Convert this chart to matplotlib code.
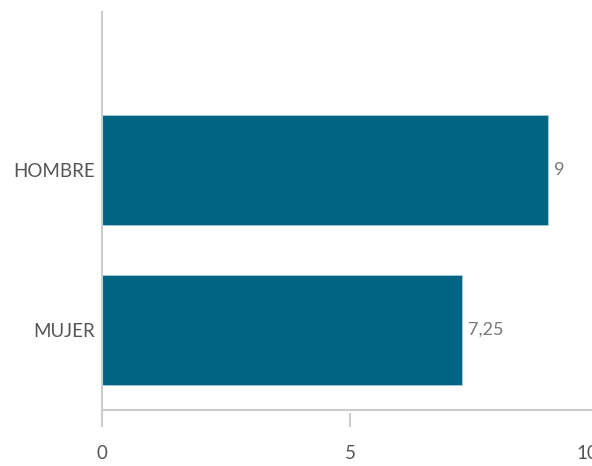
import matplotlib
matplotlib.use('Agg')
import matplotlib.pyplot as plt
from matplotlib.transforms import ScaledTranslation

categories = ['MUJER', 'HOMBRE']
values = [7.25, 9]
value_labels = ['7,25', '9']
xticks = [0, 5, 10]

plt.rcParams['font.family'] = ['Lato', 'DejaVu Sans']

W, H = 592, 466
fig = plt.figure(figsize=(W / 100, H / 100), dpi=100)
# axes runs past the right edge so that the "10" label gets clipped like the original
ax = fig.add_axes([102 / W, (H - 410) / H, 496 / W, 398 / H])

ypos = list(range(len(categories)))
bars = ax.barh(ypos, values, height=0.69, color='#006482', edgecolor='#a8d0dc', linewidth=0.6, zorder=2)

for b, lab in zip(bars, value_labels):
    ax.text(b.get_width() + 0.12, b.get_y() + b.get_height() / 2, lab,
            va='center', ha='left', fontsize=13, color='#777777')

ax.set_xlim(0, 10)
ax.set_ylim(-0.5, 1.99)
ax.set_yticks(ypos)
ax.set_yticklabels(categories)
ax.set_xticks(xticks)
ax.set_xticklabels([str(t) for t in xticks])

for s in ['top', 'right']:
    ax.spines[s].set_visible(False)
ax.spines['left'].set_color('#cccccc')
ax.spines['left'].set_linewidth(1.5)
ax.spines['left'].set_bounds(-0.52, 1.99)
ax.spines['bottom'].set_position(('outward', 2))
ax.spines['bottom'].set_visible(False)
ax.axhline(-0.5, color='#cccccc', linewidth=1.5, zorder=1, clip_on=False)

ax.tick_params(axis='y', length=0, pad=5, labelsize=13.5, labelcolor='#555555')
ax.tick_params(axis='x', length=10, width=1.5, color='#cccccc', pad=13, labelsize=13.5, labelcolor='#555555')

# last label sits a bit left of its tick in the original
last = ax.get_xticklabels()[-1]
last.set_transform(last.get_transform() + ScaledTranslation(-11 / 100, 0, fig.dpi_scale_trans))

fig.savefig('out.png', dpi=100)
